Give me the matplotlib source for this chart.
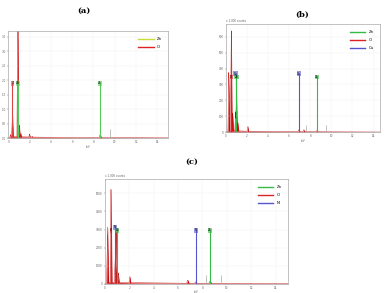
import numpy as np
import matplotlib.pyplot as plt
from matplotlib.lines import Line2D

# ---- panel (a): Zn, O ----
a_peak_e = [0.22, 0.40, 0.90, 1.05, 1.20, 2.00, 2.25, 8.63]
a_peak_h = [0.12, 0.85, 5.0, 0.45, 0.15, 0.14, 0.06, 0.12]
a_line_e = [9.57]            # grey escape/sum lines
a_line_h = [0.30]
a_mark_el = ['O', 'Zn', 'Zn']
a_mark_e = [0.40, 0.90, 8.63]
a_mark_h = [1.9, 1.9, 1.9]
a_legend = ['Zn', 'O']
a_yticks = [0, 0.5, 1.0, 1.5, 2.0, 2.5, 3.0, 3.5]

# ---- panel (b): Zn, O, Cu ----
b_peak_e = [0.28, 0.52, 0.65, 0.93, 1.01, 1.15, 2.10, 6.93, 7.40, 8.63]
b_peak_h = [380, 650, 120, 130, 250, 60, 35, 15, 15, 10]
b_line_e = [7.60, 9.50]
b_line_h = [45, 45]
b_mark_el = ['O', 'Cu', 'Zn', 'Cu', 'Zn']
b_mark_e = [0.52, 0.93, 1.01, 6.93, 8.63]
b_mark_h = [347, 367, 347, 367, 347]
b_legend = ['Zn', 'O', 'Cu']
b_yticks = [0, 100, 200, 300, 400, 500, 600]

# ---- panel (c): Zn, O, Ni ----
c_peak_e = [0.22, 0.50, 0.85, 0.96, 1.10, 2.05, 6.80, 7.45, 8.63]
c_peak_h = [3200, 5300, 1500, 2900, 600, 400, 200, 100, 150]
c_line_e = [8.26, 9.50]
c_line_h = [500, 500]
c_mark_el = ['O', 'Ni', 'Zn', 'Ni', 'Zn']
c_mark_e = [0.50, 0.85, 1.01, 7.45, 8.63]
c_mark_h = [2960, 3130, 2960, 2960, 2960]
c_legend = ['Zn', 'O', 'Ni']
c_yticks = [0, 1000, 2000, 3000, 4000, 5000]

legend_a = {'Zn': '#c8dc3c', 'O': '#dd2222'}
marks_a = {'Zn': '#55cc55', 'O': '#dd4444'}
colors_bc = {'Zn': '#33bb44', 'O': '#dd2222', 'Cu': '#5555cc', 'Ni': '#5555cc'}


def draw_panel(ax, peak_e, peak_h, line_e, line_h, mark_el, mark_e, mark_h,
               legend, yticks, ymax, xmax, colors, mcolors, header=None):
    x = np.linspace(0, xmax, 4000)
    bg = np.interp(x, [0, 0.3, 2, 6, xmax], [0, 0.014, 0.009, 0.004, 0.001]) * ymax
    spec = bg.copy()
    for e, h in zip(peak_e, peak_h):
        w = 0.08 if e < 3 else 0.12
        tri = np.clip(1 - np.abs(x - e) / w, 0, None) * h
        spec = np.maximum(spec, tri)
    ax.fill_between(x, 0, spec, color='#d01515', lw=0)
    ax.plot(x, spec, color='#c00000', lw=0.3)
    for e, h in zip(line_e, line_h):
        ax.vlines(e, 0, h, color='#aaaaaa', lw=0.5)
    for el, e, h in zip(mark_el, mark_e, mark_h):
        c = mcolors[el]
        ax.vlines(e, 0, h, color=c, lw=0.8)
        ax.text(e, h, el, fontsize=2, color='k', ha='center', va='center',
                bbox=dict(boxstyle='square,pad=0.15', fc=c, ec='none', alpha=0.6))
    handles = [Line2D([], [], color=colors[el], lw=1.0) for el in legend]
    ax.legend(handles, legend, loc='upper right', fontsize=2.8, frameon=False,
              handlelength=4, labelspacing=1.0, borderaxespad=1.2)
    ax.set_xlim(0, xmax)
    ax.set_ylim(0, ymax)
    ax.set_xticks(range(0, int(xmax) + 1, 2))
    ax.set_yticks(yticks)
    ax.tick_params(labelsize=2, length=1, width=0.3, pad=0.5, colors='#666666')
    ax.grid(color='#eeeeee', lw=0.3)
    for s in ax.spines.values():
        s.set_color('#aaaaaa')
        s.set_linewidth(0.5)
    ax.set_xlabel('keV', fontsize=1.8, labelpad=0.3, color='#666666')
    if header:
        ax.text(0.0, 1.005, header, transform=ax.transAxes, fontsize=2,
                color='#666666', va='bottom')


fig = plt.figure(figsize=(3.9, 2.93), dpi=100)
ax_a = fig.add_axes([0.021, 0.529, 0.41, 0.365])
ax_b = fig.add_axes([0.579, 0.549, 0.395, 0.369])
ax_c = fig.add_axes([0.269, 0.032, 0.469, 0.357])

draw_panel(ax_a, a_peak_e, a_peak_h, a_line_e, a_line_h, a_mark_el, a_mark_e,
           a_mark_h, a_legend, a_yticks, 3.7, 15, legend_a, marks_a)
draw_panel(ax_b, b_peak_e, b_peak_h, b_line_e, b_line_h, b_mark_el, b_mark_e,
           b_mark_h, b_legend, b_yticks, 680, 14.6, colors_bc, colors_bc, 'x 1.000 counts')
draw_panel(ax_c, c_peak_e, c_peak_h, c_line_e, c_line_h, c_mark_el, c_mark_e,
           c_mark_h, c_legend, c_yticks, 5800, 15, colors_bc, colors_bc, 'x 1.000 counts')

fig.text(0.215, 0.962, '(a)', fontsize=6, fontweight='bold', family='serif', ha='center', va='center')
fig.text(0.774, 0.949, '(b)', fontsize=6, fontweight='bold', family='serif', ha='center', va='center')
fig.text(0.492, 0.447, '(c)', fontsize=6, fontweight='bold', family='serif', ha='center', va='center')

fig.savefig('out.png', dpi=100)
